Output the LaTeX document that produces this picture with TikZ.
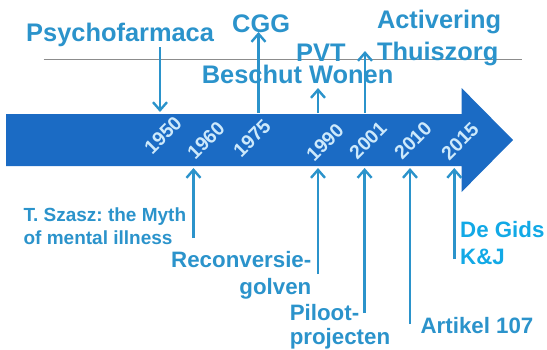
\documentclass[tikz,border=0pt]{standalone}
\usepackage{fontspec}
\setmainfont{Liberation Sans}
\usetikzlibrary{arrows.meta}
\definecolor{bodyblue}{HTML}{1B6BC4}
\definecolor{lblblue}{HTML}{2B93CB}
\definecolor{gidsblue}{HTML}{12A9E6}
\definecolor{yearcol}{HTML}{CDE9FB}
\definecolor{rulegray}{HTML}{8C8C8C}
\frenchspacing
\begin{document}
\begin{tikzpicture}[x=1pt,y=-1pt,
  big/.style={font=\bfseries\fontsize{25.4}{32}\selectfont, text=lblblue, inner sep=0pt},
  mid/.style={font=\bfseries\fontsize{22.3}{27}\selectfont, text=lblblue, inner sep=0pt},
  small/.style={font=\bfseries\fontsize{19}{23}\selectfont, text=lblblue, inner sep=0pt},
  year/.style={font=\bfseries\fontsize{19.5}{22}\selectfont, text=yearcol, rotate=45, inner sep=0pt},
  pin/.style={draw=lblblue, line width=2.4pt, -{Straight Barb[length=8pt,width=14pt]}},
]
\useasboundingbox (0,0) rectangle (547,349);
% timeline arrow
\fill[bodyblue] (6,114) -- (461.6,114) -- (461.6,88) -- (513,140) -- (461.6,192) -- (461.6,166) -- (6,166) -- cycle;
% gray rule
\draw[rulegray, line width=1pt] (43.6,59) -- (522,59);
% years
\node[year] (y1950) at (163,135) {1950};
\node[year] (y1960) at (206,140.5) {1960};
\node[year] (y1975) at (252,138) {1975};
\node[year] (y1990) at (325,142.5) {1990};
\node[year] (y2001) at (368,140.5) {2001};
\node[year] (y2010) at (413,140.5) {2010};
\node[year] (y2015) at (460,141) {2015};
% top labels
\node[big, anchor=base west] (psy) at (26,41) {Psychofarmaca};
\node[big, anchor=base west] (cgg) at (232,32) {CGG};
\node[big, anchor=base west] (pvt) at (296,61) {PVT};
\node[big, anchor=base west] (bw) at (201.7,83) {Beschut Wonen};
\node[big, anchor=base west, align=left] (act) at (376.8,60) {Activering\\Thuiszorg};
% bottom labels
\node[small, anchor=base west, align=left] (szasz) at (23.4,244) {T. Szasz: the Myth\\of mental illness};
\node[mid, anchor=base east, align=right] (recon) at (311.5,294) {Reconversie-\\golven};
\node[mid, anchor=base west, align=left, font=\bfseries\fontsize{22.3}{23.5}\selectfont] (pil) at (289.6,344) {Piloot-\\projecten};
\node[mid, anchor=base west] (art) at (420.4,333) {Artikel 107};
\node[mid, anchor=base west, align=left, text=gidsblue] (gids) at (460,264) {De Gids\\K\&J};
% pin coordinates
\coordinate (psyS) at (160,47);  \coordinate (psyE) at (160,112);
\coordinate (cggS) at (258.5,113); \coordinate (cggE) at (258.5,32);
\coordinate (pvtS) at (318,113); \coordinate (pvtE) at (318,88);
\coordinate (actS) at (365,113); \coordinate (actE) at (365,51);
\coordinate (b60S) at (193.5,238); \coordinate (b60E) at (193.5,168);
\coordinate (b90S) at (318,274); \coordinate (b90E) at (318,168);
\coordinate (b01S) at (364.6,313); \coordinate (b01E) at (364.6,168);
\coordinate (b10S) at (410,324); \coordinate (b10E) at (410,168);
\coordinate (b15S) at (454.3,259); \coordinate (b15E) at (454.3,168);
\draw[pin] (psyS) -- (psyE);
\draw[pin] (cggS) -- (cggE);
\draw[pin] (pvtS) -- (pvtE);
\draw[pin] (actS) -- (actE);
\draw[pin] (b60S) -- (b60E);
\draw[pin] (b90S) -- (b90E);
\draw[pin] (b01S) -- (b01E);
\draw[pin] (b10S) -- (b10E);
\draw[pin] (b15S) -- (b15E);
\end{tikzpicture}
\end{document}
